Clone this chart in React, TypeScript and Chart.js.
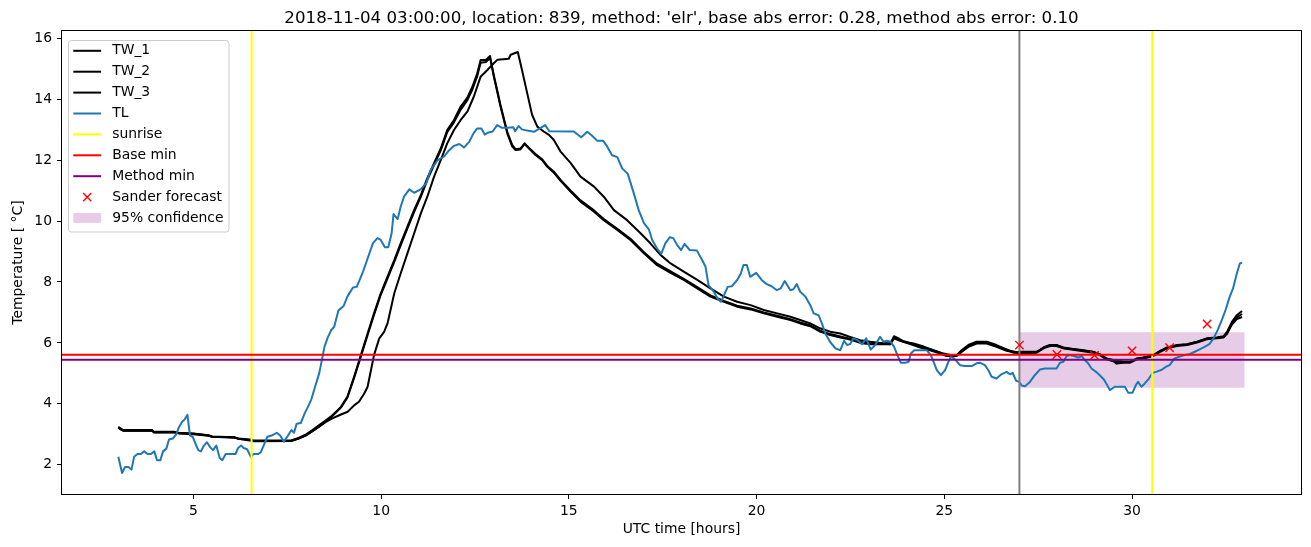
import React, { useEffect, useRef } from "react";
import { Chart, registerables } from "chart.js";

Chart.register(...registerables);

const FONT_FAMILY = "'DejaVu Sans', 'Liberation Sans', sans-serif";

const titleText =
  "2018-11-04 03:00:00, location: 839, method: 'elr', base abs error: 0.28, method abs error: 0.10";
const xAxisLabel = "UTC time [hours]";
const yAxisLabel = "Temperature [ °C]";

const xRange = [1.5, 34.5];
const yRange = [1.04, 16.24];
const xTicks = [5, 10, 15, 20, 25, 30];
const yTicks = [2, 4, 6, 8, 10, 12, 14, 16];

// TL (air temperature)
const tlHours = [
  3.0, 3.1, 3.18, 3.27, 3.35, 3.42, 3.51, 3.6, 3.69, 3.78,
  3.87, 3.96, 4.03, 4.12, 4.19, 4.28, 4.35, 4.45, 4.54, 4.61,
  4.7, 4.77, 4.84, 4.91, 4.98, 5.06, 5.13, 5.2, 5.27, 5.36,
  5.45, 5.52, 5.61, 5.7, 5.77, 5.86, 6.12, 6.19, 6.27, 6.34,
  6.43, 6.53, 6.6, 6.73, 6.8, 6.9, 6.97, 7.08, 7.22, 7.31,
  7.41, 7.52, 7.61, 7.68, 7.75, 7.86, 7.96, 8.05, 8.14, 8.24,
  8.35, 8.44, 8.49, 8.58, 8.67, 8.75, 8.86, 9.0, 9.1, 9.25,
  9.35, 9.5, 9.64, 9.78, 9.9, 9.99, 10.1, 10.19, 10.28, 10.33,
  10.44, 10.52, 10.61, 10.75, 10.88, 11.05, 11.2, 11.32, 11.5, 11.68,
  11.8, 11.94, 12.08, 12.21, 12.35, 12.46, 12.56, 12.67, 12.76, 12.86,
  12.97, 13.09, 13.22, 13.36, 13.52, 13.57, 13.66, 13.75, 13.89, 14.07,
  14.25, 14.37, 14.48, 15.13, 15.33, 15.49, 15.62, 15.75, 15.91, 16.02,
  16.15, 16.29, 16.42, 16.57, 16.73, 16.86, 17.0, 17.13, 17.22, 17.35,
  17.46, 17.57, 17.69, 17.78, 17.88, 17.99, 18.08, 18.22, 18.41, 18.55,
  18.64, 18.72, 18.86, 18.96, 19.05, 19.12, 19.23, 19.34, 19.48, 19.58,
  19.65, 19.74, 19.83, 19.99, 20.14, 20.27, 20.4, 20.54, 20.64, 20.75,
  20.9, 20.98, 21.07, 21.16, 21.3, 21.43, 21.52, 21.65, 21.74, 21.83,
  21.96, 22.1, 22.23, 22.33, 22.41, 22.49, 22.58, 22.69, 22.81, 22.92,
  23.04, 23.16, 23.29, 23.38, 23.47, 23.57, 23.66, 23.75, 23.84, 23.96,
  24.05, 24.11, 24.2, 24.53, 24.64, 24.73, 24.8, 24.91, 25.02, 25.11,
  25.17, 25.26, 25.42, 25.55, 25.73, 25.86, 25.95, 26.08, 26.17, 26.26,
  26.39, 26.52, 26.66, 26.75, 26.82, 26.91, 27.0, 27.06, 27.15, 27.28,
  27.41, 27.55, 27.68, 27.99, 28.08, 28.17, 28.26, 28.34, 28.45, 28.57,
  28.66, 28.74, 28.83, 28.92, 29.04, 29.14, 29.25, 29.34, 29.41, 29.54,
  29.81, 29.9, 30.01, 30.1, 30.16, 30.25, 30.34, 30.45, 30.55, 30.64,
  30.78, 30.91, 31.0, 31.13, 31.27, 31.4, 31.53, 31.67, 31.8, 31.93,
  32.06, 32.17, 32.28, 32.39, 32.49, 32.6, 32.69, 32.78, 32.87, 32.93,
];
const tlTemps = [
  2.26, 1.73, 1.93, 1.93, 1.84, 2.26, 2.35, 2.35, 2.44, 2.35,
  2.35, 2.44, 2.15, 2.15, 2.44, 2.53, 2.83, 2.86, 3.0, 3.22,
  3.41, 3.49, 3.64, 2.96, 2.92, 2.68, 2.48, 2.44, 2.61, 2.74,
  2.57, 2.48, 2.63, 2.22, 2.15, 2.35, 2.35, 2.55, 2.63, 2.55,
  2.51, 2.26, 2.35, 2.35, 2.42, 2.72, 2.92, 2.96, 3.05, 2.96,
  2.76, 2.96, 3.14, 3.05, 3.35, 3.37, 3.68, 3.9, 4.14, 4.56,
  5.0, 5.55, 5.87, 6.18, 6.42, 6.53, 7.06, 7.21, 7.52, 7.82,
  7.84, 8.28, 8.77, 9.27, 9.44, 9.38, 9.14, 9.14, 9.6, 10.23,
  10.06, 10.47, 10.8, 11.04, 10.93, 11.04, 11.24, 11.68, 11.99, 12.12,
  12.31, 12.47, 12.53, 12.42, 12.61, 12.88, 13.04, 13.04, 12.84, 12.91,
  12.94, 13.15, 13.06, 13.06, 13.08, 12.95, 13.12, 13.01, 12.97, 12.93,
  13.06, 13.15, 12.95, 12.94, 12.75, 12.93, 12.8, 12.64, 12.64, 12.45,
  12.16, 12.1, 11.73, 11.55, 10.91, 10.36, 9.93, 9.73, 9.38, 9.1,
  8.92, 9.27, 9.47, 9.44, 9.22, 9.05, 9.25, 9.05, 9.03, 8.72,
  8.5, 7.9, 7.68, 7.46, 7.35, 7.53, 7.84, 7.86, 8.06, 8.28,
  8.56, 8.56, 8.17, 8.3, 8.06, 7.93, 7.86, 7.73, 7.79, 8.03,
  7.73, 7.76, 7.93, 7.68, 7.52, 7.24, 6.97, 6.91, 6.64, 6.31,
  6.03, 5.82, 5.76, 6.07, 5.93, 5.96, 6.15, 6.09, 5.96, 6.15,
  5.78, 5.93, 6.2, 6.04, 6.07, 6.04, 5.88, 5.6, 5.35, 5.35,
  5.38, 5.65, 5.76, 5.76, 5.6, 5.33, 5.11, 4.94, 5.11, 5.38,
  5.54, 5.49, 5.27, 5.24, 5.24, 5.33, 5.35, 5.27, 5.11, 4.89,
  4.83, 4.97, 5.05, 4.97, 5.02, 4.76, 4.72, 4.6, 4.58, 4.72,
  4.94, 5.13, 5.16, 5.16, 5.35, 5.38, 5.57, 5.6, 5.57, 5.52,
  5.57, 5.44, 5.33, 5.16, 5.05, 4.94, 4.8, 4.61, 4.45, 4.56,
  4.56, 4.36, 4.36, 4.61, 4.72, 4.56, 4.67, 4.83, 5.02, 5.05,
  5.11, 5.22, 5.27, 5.49, 5.55, 5.6, 5.63, 5.71, 5.79, 5.87,
  5.96, 6.15, 6.42, 6.75, 7.08, 7.51, 7.79, 8.23, 8.61, 8.63,
];

// TW_1 and TW_2 share their time stamps
const tw12Hours = [
  3.0, 3.05, 3.13, 3.9, 3.95, 4.5, 4.6, 5.0, 5.4, 5.5,
  6.1, 6.2, 6.5, 6.6, 7.6, 7.8, 8.0, 8.17, 8.35, 8.52,
  8.66, 8.93, 9.1, 9.28, 9.46, 9.64, 9.81, 9.99, 10.17, 10.35,
  10.52, 10.7, 10.88, 11.06, 11.23, 11.41, 11.59, 11.76, 11.94, 12.12,
  12.3, 12.43, 12.56, 12.65, 12.79, 12.9, 13.0, 13.18, 13.36, 13.49,
  13.58, 13.71, 13.82, 13.94, 14.11, 14.29, 14.42, 14.6, 14.78, 15.05,
  15.31, 15.67, 15.93, 16.29, 16.64, 17.0, 17.35, 17.71, 18.06, 18.42,
  18.77, 19.13, 19.48, 19.84, 20.19, 20.55, 20.9, 21.16, 21.43, 21.69,
  21.96, 22.23, 22.49, 22.76, 23.03, 23.56, 23.66, 23.82, 24.09, 24.36,
  24.62, 24.89, 25.06, 25.33, 25.46, 25.64, 25.86, 26.13, 26.39, 26.66,
  27.0, 27.46, 27.64, 27.81, 27.99, 28.17, 28.34, 28.7, 28.96, 29.14,
  29.32, 29.5, 29.59, 29.77, 29.95, 30.13, 30.3, 30.57, 30.75, 30.93,
  31.2, 31.46, 31.73, 31.99, 32.26, 32.44, 32.53, 32.66, 32.79, 32.93,
];
const tw1Temps = [
  3.25, 3.2, 3.14, 3.14, 3.08, 3.08, 3.05, 3.03, 2.97, 2.93,
  2.9, 2.86, 2.83, 2.8, 2.8, 2.88, 3.0, 3.14, 3.3, 3.45,
  3.58, 3.9, 4.23, 4.89, 5.6, 6.31, 6.97, 7.63, 8.18, 8.72,
  9.27, 9.82, 10.37, 10.86, 11.41, 11.9, 12.39, 12.99, 13.32, 13.76,
  14.06, 14.41, 14.85, 15.29, 15.29, 15.42, 14.75, 13.76, 12.88, 12.45,
  12.33, 12.35, 12.53, 12.38, 12.17, 12.0, 11.79, 11.59, 11.32, 10.96,
  10.64, 10.31, 10.03, 9.71, 9.38, 8.94, 8.55, 8.3, 8.07, 7.79,
  7.52, 7.35, 7.19, 7.1, 6.97, 6.86, 6.75, 6.64, 6.55, 6.37,
  6.26, 6.18, 6.11, 6.0, 5.96, 5.96, 6.15, 6.07, 5.96, 5.85,
  5.76, 5.65, 5.57, 5.57, 5.7, 5.87, 5.98, 5.98, 5.87, 5.74,
  5.65, 5.68, 5.82, 5.9, 5.9, 5.82, 5.79, 5.73, 5.68, 5.6,
  5.46, 5.4, 5.32, 5.35, 5.35, 5.46, 5.49, 5.57, 5.71, 5.82,
  5.9, 5.93, 6.01, 6.12, 6.15, 6.18, 6.3, 6.6, 6.78, 6.85,
];
const tw2Temps = [
  3.22, 3.18, 3.12, 3.12, 3.07, 3.07, 3.04, 3.02, 2.96, 2.92,
  2.89, 2.85, 2.81, 2.78, 2.78, 2.86, 2.97, 3.1, 3.26, 3.42,
  3.55, 3.88, 4.2, 4.85, 5.55, 6.26, 6.92, 7.58, 8.12, 8.66,
  9.2, 9.76, 10.3, 10.8, 11.35, 11.84, 12.33, 12.92, 13.24, 13.66,
  13.98, 14.32, 14.76, 15.2, 15.22, 15.36, 14.8, 13.8, 12.92, 12.5,
  12.36, 12.38, 12.55, 12.4, 12.2, 12.03, 11.82, 11.62, 11.35, 11.0,
  10.68, 10.35, 10.07, 9.75, 9.42, 8.98, 8.6, 8.35, 8.1, 7.83,
  7.56, 7.38, 7.22, 7.13, 7.0, 6.89, 6.78, 6.67, 6.58, 6.4,
  6.29, 6.21, 6.14, 6.03, 5.99, 5.99, 6.18, 6.1, 5.99, 5.88,
  5.79, 5.68, 5.6, 5.6, 5.73, 5.9, 6.01, 6.01, 5.9, 5.77,
  5.68, 5.7, 5.84, 5.92, 5.92, 5.84, 5.81, 5.75, 5.7, 5.62,
  5.48, 5.42, 5.38, 5.37, 5.37, 5.48, 5.51, 5.59, 5.73, 5.84,
  5.92, 5.95, 6.03, 6.14, 6.17, 6.2, 6.33, 6.64, 6.84, 6.95,
];

// TW_3
const tw3Hours = [
  3.0, 3.05, 3.13, 3.9, 3.95, 4.5, 4.6, 5.0, 5.4, 5.5,
  6.1, 6.2, 6.5, 6.6, 7.6, 7.8, 8.0, 8.17, 8.35, 8.52,
  8.7, 8.93, 9.11, 9.28, 9.41, 9.55, 9.64, 9.73, 9.81, 9.95,
  10.08, 10.17, 10.35, 10.52, 10.7, 10.88, 11.06, 11.23, 11.41, 11.59,
  11.76, 11.94, 12.12, 12.3, 12.47, 12.65, 12.83, 13.0, 13.1, 13.4,
  13.45, 13.64, 13.75, 13.89, 14.02, 14.16, 14.33, 14.47, 14.6, 14.78,
  15.05, 15.31, 15.67, 15.93, 16.2, 16.55, 16.91, 17.17, 17.44, 17.71,
  18.06, 18.42, 18.77, 19.13, 19.48, 19.84, 20.19, 20.55, 20.9, 21.16,
  21.43, 21.69, 21.96, 22.23, 22.49, 22.76, 23.03, 23.29, 23.56, 23.66,
  23.78, 23.91, 24.18, 24.45, 24.71, 24.98, 25.16, 25.33, 25.46, 25.64,
  25.86, 26.13, 26.39, 26.66, 26.84, 27.0, 27.46, 27.64, 27.81, 27.99,
  28.17, 28.34, 28.7, 28.96, 29.14, 29.32, 29.5, 29.77, 29.95, 30.13,
  30.3, 30.57, 30.75, 30.93, 31.2, 31.46, 31.73, 31.99, 32.26, 32.44,
  32.53, 32.66, 32.79, 32.93,
];
const tw3Temps = [
  3.22, 3.17, 3.12, 3.12, 3.06, 3.06, 3.03, 3.0, 2.95, 2.92,
  2.9, 2.85, 2.8, 2.77, 2.78, 2.86, 2.96, 3.1, 3.25, 3.4,
  3.52, 3.65, 3.74, 3.95, 4.07, 4.34, 4.56, 5.11, 5.6, 6.15,
  6.36, 6.64, 7.63, 8.28, 8.94, 9.6, 10.26, 10.8, 11.46, 12.01,
  12.55, 12.99, 13.32, 13.6, 14.09, 14.74, 14.96, 15.18, 15.3, 15.33,
  15.46, 15.55, 14.97, 14.2, 13.49, 13.1, 12.94, 12.83, 12.66, 12.28,
  11.9, 11.46, 11.13, 10.8, 10.36, 10.03, 9.6, 9.27, 8.89, 8.61,
  8.34, 8.07, 7.79, 7.52, 7.35, 7.24, 7.08, 6.97, 6.86, 6.75,
  6.64, 6.48, 6.37, 6.31, 6.2, 6.09, 6.04, 6.0, 5.96, 6.22,
  6.15, 6.04, 5.98, 5.88, 5.76, 5.65, 5.6, 5.6, 5.76, 5.93,
  6.04, 6.04, 5.93, 5.79, 5.68, 5.71, 5.71, 5.85, 5.93, 5.93,
  5.85, 5.82, 5.76, 5.71, 5.63, 5.49, 5.44, 5.38, 5.38, 5.49,
  5.52, 5.6, 5.74, 5.85, 5.93, 5.96, 6.04, 6.15, 6.18, 6.22,
  6.36, 6.69, 6.91, 7.05,
];

const sunriseHours = [6.55, 30.54];
const nowHour = 27.0;
const baseMin = 5.61;
const methodMin = 5.45;
const forecastHours = [27, 28, 29, 30, 31, 32];
const forecastTemps = [5.93, 5.62, 5.59, 5.74, 5.84, 6.62];
const confHours = [27, 33];
const confLower = [4.53, 4.53];
const confUpper = [6.35, 6.35];

const BLUE = "#1f77b4";
const CONF_FILL = "rgba(128,0,128,0.2)";

const legendItems = [
  { label: "TW_1", kind: "line", color: "#000000" },
  { label: "TW_2", kind: "line", color: "#000000" },
  { label: "TW_3", kind: "line", color: "#000000" },
  { label: "TL", kind: "line", color: BLUE },
  { label: "sunrise", kind: "line", color: "#ffff00" },
  { label: "Base min", kind: "line", color: "#ff0000" },
  { label: "Method min", kind: "line", color: "#800080" },
  { label: "Sander forecast", kind: "marker", color: "#ff0000" },
  { label: "95% confidence", kind: "patch", color: CONF_FILL },
];

const pts = (xs: number[], ys: number[]) => xs.map((x, i) => ({ x, y: ys[i] }));

const decorPlugin = {
  id: "decor",
  afterDraw(chart: any) {
    const ctx = chart.ctx as CanvasRenderingContext2D;
    const a = chart.chartArea;
    ctx.save();
    // axes frame
    ctx.strokeStyle = "#000";
    ctx.lineWidth = 1;
    const L = Math.floor(a.left) - 0.5;
    const R = Math.round(a.right) + 0.5;
    const T = Math.round(a.top) - 0.5;
    const B = Math.round(a.bottom) + 0.5;
    ctx.strokeRect(L, T, R - L, B - T);

    // title
    ctx.fillStyle = "#000";
    ctx.textAlign = "center";
    ctx.textBaseline = "alphabetic";
    ctx.font = `16.67px ${FONT_FAMILY}`;
    ctx.fillText(titleText, (a.left + a.right) / 2, a.top - 8.3);

    // axis labels
    ctx.font = `13.9px ${FONT_FAMILY}`;
    ctx.fillText(xAxisLabel, (a.left + a.right) / 2, 533);
    ctx.save();
    ctx.translate(22, (a.top + a.bottom) / 2);
    ctx.rotate(-Math.PI / 2);
    ctx.fillText(yAxisLabel, 0, 0);
    ctx.restore();

    // legend
    const bx = 68.5, by = 40.5, bw = 160.5, bh = 191.5, r = 3;
    ctx.beginPath();
    ctx.moveTo(bx + r, by);
    ctx.lineTo(bx + bw - r, by);
    ctx.quadraticCurveTo(bx + bw, by, bx + bw, by + r);
    ctx.lineTo(bx + bw, by + bh - r);
    ctx.quadraticCurveTo(bx + bw, by + bh, bx + bw - r, by + bh);
    ctx.lineTo(bx + r, by + bh);
    ctx.quadraticCurveTo(bx, by + bh, bx, by + bh - r);
    ctx.lineTo(bx, by + r);
    ctx.quadraticCurveTo(bx, by, bx + r, by);
    ctx.closePath();
    ctx.fillStyle = "rgba(255,255,255,0.8)";
    ctx.fill();
    ctx.strokeStyle = "#cccccc";
    ctx.lineWidth = 1;
    ctx.stroke();

    const hx0 = 73.3, hx1 = 101.1, tx = 112.2;
    ctx.textAlign = "left";
    ctx.textBaseline = "middle";
    ctx.font = `13.9px ${FONT_FAMILY}`;
    legendItems.forEach((it, i) => {
      const y = 50.8 + i * 20.9;
      if (it.kind === "line") {
        ctx.strokeStyle = it.color;
        ctx.lineWidth = 2;
        ctx.beginPath();
        ctx.moveTo(hx0, y);
        ctx.lineTo(hx1, y);
        ctx.stroke();
      } else if (it.kind === "marker") {
        const cx = (hx0 + hx1) / 2, h = 4.1;
        ctx.strokeStyle = it.color;
        ctx.lineWidth = 1.4;
        ctx.beginPath();
        ctx.moveTo(cx - h, y - h);
        ctx.lineTo(cx + h, y + h);
        ctx.moveTo(cx - h, y + h);
        ctx.lineTo(cx + h, y - h);
        ctx.stroke();
      } else {
        ctx.fillStyle = it.color;
        ctx.fillRect(hx0, y - 4.9, hx1 - hx0, 9.8);
      }
      ctx.fillStyle = "#000";
      ctx.fillText(it.label, tx, y);
    });
    ctx.restore();
  },
};

export default function App() {
  const canvasRef = useRef<HTMLCanvasElement | null>(null);

  useEffect(() => {
    const canvas = canvasRef.current;
    if (!canvas) return;

    const lineBase = {
      type: "line" as const,
      pointRadius: 0,
      borderWidth: 2,
      tension: 0,
      fill: false,
      borderJoinStyle: "round" as const,
    };

    const vLine = (x: number) => [
      { x, y: yRange[0] },
      { x, y: yRange[1] },
    ];
    const hLine = (y: number) => [
      { x: xRange[0], y },
      { x: xRange[1], y },
    ];

    const chart = new Chart(canvas, {
      type: "line",
      data: {
        datasets: [
          {
            ...lineBase,
            label: "95% confidence",
            data: pts(confHours, confUpper),
            borderColor: "rgba(0,0,0,0)",
            backgroundColor: CONF_FILL,
            fill: "+1",
            order: 100,
          },
          {
            ...lineBase,
            label: "conf-lower",
            data: pts(confHours, confLower),
            borderColor: "rgba(0,0,0,0)",
            order: 99,
          },
          { ...lineBase, label: "TW_1", data: pts(tw12Hours, tw1Temps), borderColor: "#000", order: 90 },
          { ...lineBase, label: "TW_2", data: pts(tw12Hours, tw2Temps), borderColor: "#000", order: 89 },
          { ...lineBase, label: "TW_3", data: pts(tw3Hours, tw3Temps), borderColor: "#000", order: 88 },
          { ...lineBase, label: "TL", data: pts(tlHours, tlTemps), borderColor: BLUE, order: 87 },
          { ...lineBase, label: "sunrise", data: vLine(sunriseHours[0]), borderColor: "#ffff00", order: 86 },
          { ...lineBase, label: "sunrise2", data: vLine(sunriseHours[1]), borderColor: "#ffff00", order: 85 },
          { ...lineBase, label: "now", data: vLine(nowHour), borderColor: "#808080", order: 84 },
          { ...lineBase, label: "Base min", data: hLine(baseMin), borderColor: "#ff0000", order: 83 },
          { ...lineBase, label: "Method min", data: hLine(methodMin), borderColor: "#800080", order: 82 },
          {
            type: "line" as const,
            label: "Sander forecast",
            data: pts(forecastHours, forecastTemps),
            showLine: false,
            pointStyle: "crossRot",
            pointRadius: 5.9,
            pointBorderColor: "#ff0000",
            pointBackgroundColor: "#ff0000",
            pointBorderWidth: 1.4,
            borderColor: "#ff0000",
            order: 81,
          },
        ] as any,
      },
      options: {
        responsive: false,
        animation: false,
        devicePixelRatio: 1,
        events: [],
        layout: { padding: { top: 31, right: 10, left: 0, bottom: 0 } },
        plugins: {
          legend: { display: false },
          title: { display: false },
          tooltip: { enabled: false },
        },
        scales: {
          x: {
            type: "linear",
            min: xRange[0],
            max: xRange[1],
            afterBuildTicks: (s: any) => {
              s.ticks = xTicks.map((v) => ({ value: v }));
            },
            afterFit: (s: any) => {
              s.height = 53;
            },
            grid: {
              drawOnChartArea: false,
              drawTicks: true,
              tickLength: 5,
              tickColor: "#000",
              tickWidth: 1,
            },
            border: { display: false },
            ticks: {
              color: "#000",
              font: { family: FONT_FAMILY, size: 13.9 },
              padding: 4,
              maxRotation: 0,
              autoSkip: false,
              callback: (v: any) => String(v),
            },
          },
          y: {
            type: "linear",
            min: yRange[0],
            max: yRange[1],
            afterBuildTicks: (s: any) => {
              s.ticks = yTicks.map((v) => ({ value: v }));
            },
            afterFit: (s: any) => {
              s.width = 62;
            },
            grid: {
              drawOnChartArea: false,
              drawTicks: true,
              tickLength: 5,
              tickColor: "#000",
              tickWidth: 1,
            },
            border: { display: false },
            ticks: {
              color: "#000",
              font: { family: FONT_FAMILY, size: 13.9 },
              padding: 5,
              autoSkip: false,
              callback: (v: any) => String(v),
            },
          },
        } as any,
      },
      plugins: [decorPlugin],
    });

    return () => chart.destroy();
  }, []);

  return (
    <div style={{ position: "fixed", left: 0, top: 0, width: 1311, height: 547, background: "#fff" }}>
      <canvas ref={canvasRef} width={1311} height={547} style={{ display: "block" }} />
    </div>
  );
}
